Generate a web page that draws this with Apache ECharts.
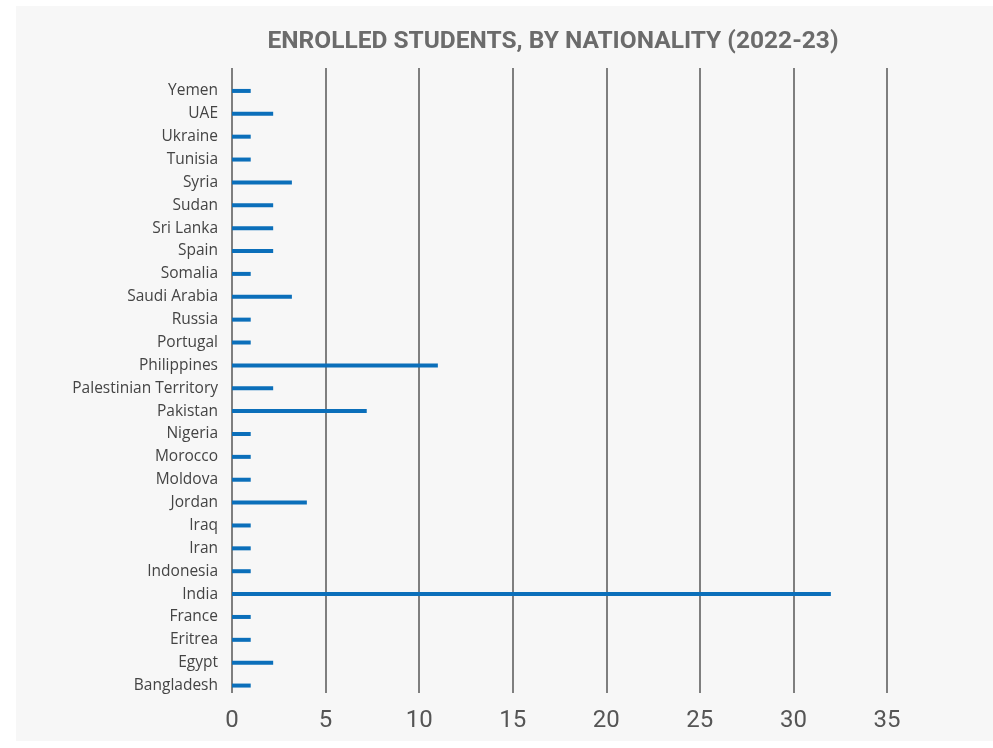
<!DOCTYPE html>
<html>
<head>
<meta charset="utf-8">
<script src="https://cdn.jsdelivr.net/npm/echarts@6/dist/echarts.min.js"></script>
<style>
  html, body { margin: 0; padding: 0; background: #ffffff; }
  #panel { position: absolute; left: 16px; top: 6px; width: 977px; height: 735px; background: #f7f7f7; }
  #chart { position: absolute; left: 0; top: 0; width: 993px; height: 748px; }
</style>
</head>
<body>
<div id="panel"></div>
<div id="chart"></div>
<script>
// nationalities, bottom to top as drawn
const countries = ['Bangladesh', 'Egypt', 'Eritrea', 'France', 'India', 'Indonesia', 'Iran', 'Iraq',
  'Jordan', 'Moldova', 'Morocco', 'Nigeria', 'Pakistan', 'Palestinian Territory', 'Philippines',
  'Portugal', 'Russia', 'Saudi Arabia', 'Somalia', 'Spain', 'Sri Lanka', 'Sudan', 'Syria',
  'Tunisia', 'Ukraine', 'UAE', 'Yemen']
const students = [1, 2.2, 1, 1, 32, 1, 1, 1,
  4, 1, 1, 1, 7.2, 2.2, 11,
  1, 1, 3.2, 1, 2.2, 2.2, 2.2, 3.2,
  1, 1, 2.2, 1]
const xTicks = [0, 35, 5] // min, max, step

const myChart = echarts.init(document.getElementById('chart'))
const option = {
  animation: false,
  title: {
    text: 'ENROLLED STUDENTS, BY NATIONALITY (2022-23)',
    left: 548,
    top: 24,
    textAlign: 'center',
    textStyle: {
      fontFamily: 'Roboto',
      fontWeight: 'bold',
      fontSize: 24.5,
      color: '#6b6b6b'
    }
  },
  grid: [
    // bars
    { left: 232, right: 106, top: 79.5, bottom: 51 },
    // vertical rules + value labels
    { left: 232, right: 106, top: 68, bottom: 55 }
  ],
  xAxis: [
    {
      gridIndex: 0, type: 'value', min: xTicks[0], max: xTicks[1], interval: xTicks[2],
      axisLine: { show: false }, axisTick: { show: false }, axisLabel: { show: false },
      splitLine: { show: false }
    },
    {
      gridIndex: 1, type: 'value', min: xTicks[0], max: xTicks[1], interval: xTicks[2],
      axisLine: { show: false }, axisTick: { show: false },
      axisLabel: { fontFamily: 'Roboto', fontSize: 24, color: '#555555', margin: 16 },
      splitLine: { show: true, lineStyle: { color: '#7f7f7f', width: 2 } }
    }
  ],
  yAxis: [
    {
      gridIndex: 0, type: 'category', data: countries,
      axisLine: { show: false }, axisTick: { show: false },
      axisLabel: { fontFamily: 'Open Sans', fontSize: 15.5, color: '#444444', margin: 14 }
    },
    {
      gridIndex: 1, type: 'value', min: 0, max: 1, show: false
    }
  ],
  series: [
    {
      name: 'students',
      type: 'bar',
      xAxisIndex: 0,
      yAxisIndex: 0,
      barWidth: 4,
      itemStyle: { color: '#0b6fba' },
      data: students
    }
  ]
}
myChart.setOption(option)
</script>
</body>
</html>
